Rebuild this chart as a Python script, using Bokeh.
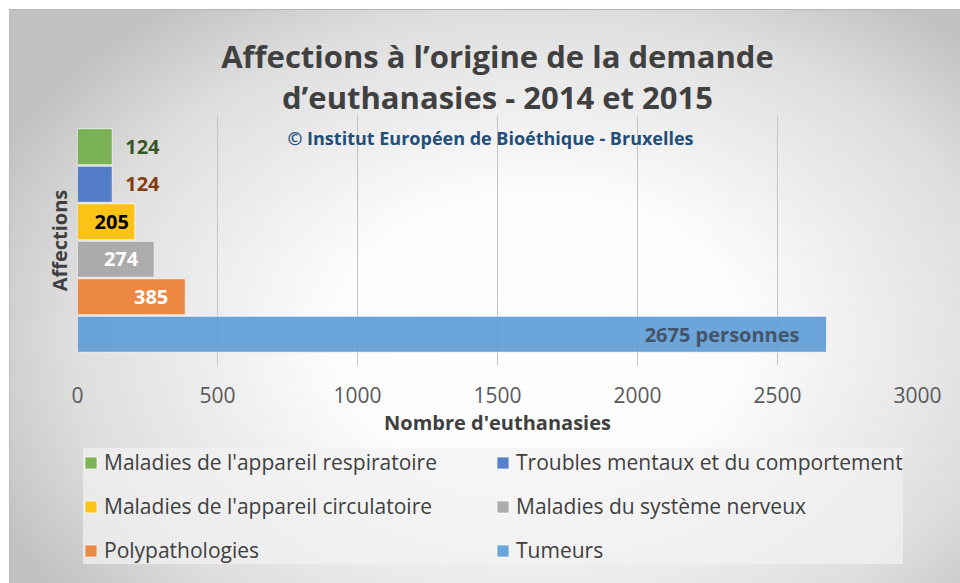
from bokeh.plotting import figure
from bokeh.layouts import column
from bokeh.models import (ColumnDataSource, FactorRange, Range1d, Label, Legend,
                          LegendItem, FixedTicker, Title)
from bokeh.core.properties import value
from bokeh.embed import file_html
from bokeh.resources import INLINE

# ---- data (bottom to top, as drawn) ----
categories = ["Tumeurs", "Polypathologies", "Maladies du système nerveux",
              "Maladies de l'appareil circulatoire",
              "Troubles mentaux et du comportement",
              "Maladies de l'appareil respiratoire"]
counts = [2675, 385, 274, 205, 124, 124]
label_suffix = [" personnes", "", "", "", "", ""]
x_ticks = [0, 500, 1000, 1500, 2000, 2500, 3000]
# legend is filled column by column (3 rows x 2 columns)
legend_order = ["Maladies de l'appareil respiratoire",
                "Maladies de l'appareil circulatoire",
                "Polypathologies",
                "Troubles mentaux et du comportement",
                "Maladies du système nerveux",
                "Tumeurs"]

# ---- styles ----
bar_colors = ["#5B9BD5", "#ED7D31", "#A5A5A5", "#FFC000", "#4472C4", "#70AD47"]
label_colors = ["#44546A", "#FFFFFF", "#FFFFFF", "#000000", "#843C0C", "#375623"]
label_align = ["right", "right", "right", "right", "left", "left"]
label_xoff = [-27, -17, -16, -6, 13, 13]

FONT = "Open Sans"

src = ColumnDataSource(dict(
    cat=categories, n=counts, color=bar_colors,
    txt=[f"{v}{s}" for v, s in zip(counts, label_suffix)],
    tcolor=label_colors, talign=label_align, txoff=label_xoff,
))

def clear(fig):
    fig.border_fill_color = None
    fig.background_fill_color = None
    fig.outline_line_color = None

# ---------------- main chart ----------------
p = figure(frame_width=840, frame_height=250, output_backend="svg", toolbar_location=None,
           x_range=Range1d(0, 3000),
           y_range=FactorRange(factors=categories, range_padding=0.3333,
                               range_padding_units="absolute"),
           min_border_left=77, min_border_right=43,
           min_border_top=115, min_border_bottom=75)
clear(p)

bar_kw = dict(y="cat", right="n", left=0, height=0.96, source=src,
              fill_color="color", fill_alpha=0.9,
              line_color="white", line_alpha=0.7, line_width=1)
r = p.hbar(**bar_kw)

p.text(x="n", y="cat", text="txt", source=src, text_color="tcolor",
       text_align="talign", x_offset="txoff", text_baseline="middle",
       text_font=value(FONT), text_font_style="bold", text_font_size="20px")

p.ygrid.visible = False
p.xgrid.grid_line_color = "#c4c4c4"
p.xgrid.grid_line_width = 1

xa = p.xaxis[0]
xa.ticker = FixedTicker(ticks=x_ticks)
xa.axis_line_color = None
xa.major_tick_line_color = None
xa.minor_tick_line_color = None
xa.major_label_standoff = 15
xa.major_label_text_font = FONT
xa.major_label_text_font_size = "21px"
xa.major_label_text_color = "#595959"
xa.axis_label = "Nombre d'euthanasies"
xa.axis_label_text_font = FONT
xa.axis_label_text_font_style = "bold"
xa.axis_label_text_font_size = "20px"
xa.axis_label_text_color = "#404040"
xa.axis_label_standoff = 3

p.yaxis.visible = False
p.add_layout(Title(text="Affections", align="center", standoff=9,
                   text_font=FONT, text_font_style="bold",
                   text_font_size="20px", text_color="#404040"), "left")

p.add_layout(Title(text="d’euthanasies - 2014 et 2015", align="center", standoff=-5,
                   text_font=FONT, text_font_style="bold", text_font_size="31px",
                   text_color="#404040"), "above")
p.add_layout(Title(text="Affections à l’origine de la demande", align="center", standoff=0,
                   text_font=FONT, text_font_style="bold", text_font_size="31px",
                   text_color="#404040"), "above")

p.add_layout(Label(x=413, y=228, x_units="screen", y_units="screen",
                   text="© Institut Européen de Bioéthique - Bruxelles",
                   text_align="center", text_baseline="middle",
                   text_font=FONT, text_font_style="bold",
                   text_font_size="18px", text_color="#1F4E79"))

# ---------------- legend strip ----------------
q = figure(width=960, height=143, output_backend="svg", toolbar_location=None,
           x_axis_type=None, y_axis_type=None,
           x_range=Range1d(0, 3000),
           y_range=FactorRange(factors=categories),
           min_border_left=77, min_border_right=43, min_border_top=2, min_border_bottom=0)
clear(q)
rq = q.hbar(**bar_kw)
rq.visible = False  # only feeds the legend swatches

items = [LegendItem(label=c, renderers=[rq], index=categories.index(c)) for c in legend_order]
leg = Legend(items=items, ncols=2, location="top_left",
             label_text_font=FONT, label_text_font_size="21px",
             label_text_color="#404040", glyph_width=15, glyph_height=15,
             label_standoff=6, label_width=375, spacing=16, padding=8, margin=6,
             background_fill_color="#f2f2f2", background_fill_alpha=0.7,
             border_line_color=None, inactive_fill_alpha=0.0)
q.add_layout(leg, "center")

layout = column(p, q, spacing=0)
layout.styles = {"background": (
    "linear-gradient(#ffffff,#ffffff) 0 0/100% 9px no-repeat,"
    "linear-gradient(#ffffff,#ffffff) 0 0/9px 100% no-repeat,"
    "linear-gradient(#b4b4b4,#b4b4b4) 9px 9px/100% 1px no-repeat,"
    "linear-gradient(#bcbcbc,#bcbcbc) 9px 9px/1px 100% no-repeat,"
    "radial-gradient(ellipse 62% 72% at 56% 58%, #ffffff 0%, #fcfcfc 35%, #dedede 78%, #c2c2c2 100%)")}

open("out.html", "w").write(file_html(layout, INLINE))
